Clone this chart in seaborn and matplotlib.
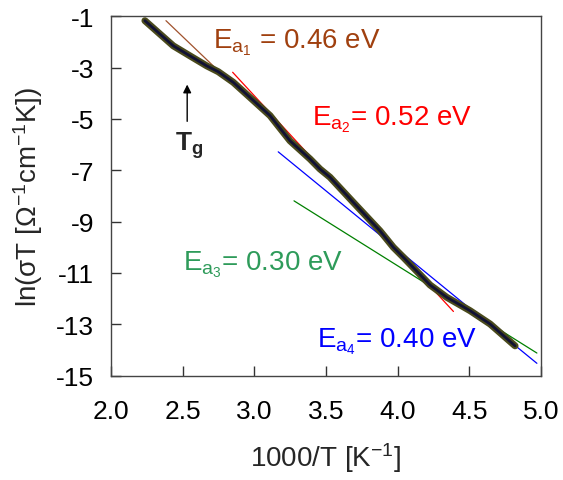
import seaborn as sns
import matplotlib.pyplot as plt
import pandas as pd

# measured curve ln(sigma T) vs 1000/T
inv_t = [2.237, 2.342, 2.435, 2.551, 2.668, 2.749, 2.853, 2.970, 3.110, 3.249,
         3.389, 3.458, 3.528, 3.691, 3.877, 3.970, 4.040, 4.226, 4.343, 4.505,
         4.645, 4.819]
ln_st = [-1.17, -1.69, -2.15, -2.54, -2.93, -3.16, -3.57, -4.16, -4.87, -5.85,
         -6.56, -6.95, -7.27, -8.25, -9.36, -10.00, -10.39, -11.47, -11.95, -12.47,
         -12.99, -13.84]

# Arrhenius fit lines (end points)
fit_name = ['Ea1', 'Ea2', 'Ea3', 'Ea4']
fit_x0 = [2.384, 2.849, 3.277, 3.167]
fit_x1 = [2.749, 4.389, 4.971, 4.971]
fit_y0 = [-1.17, -3.18, -8.19, -6.28]
fit_y1 = [-3.12, -12.50, -14.12, -14.52]
fit_color = ['#A0522D', '#FF0000', '#008000', '#0000FF']

# labels
lab_text = [r'E$_{a_1}$ = 0.46 eV', r'E$_{a_2}$= 0.52 eV',
            r'E$_{a_3}$= 0.30 eV', r'E$_{a_4}$= 0.40 eV']
lab_x = [2.71, 3.40, 2.50, 3.44]
lab_y = [-2.0, -5.0, -10.65, -13.65]
lab_color = ['#A0400F', '#FF0000', '#2E9B5A', '#0000FF']

sns.set_style('ticks')
plt.rcParams['font.family'] = ['Liberation Sans', 'DejaVu Sans']
plt.rcParams['mathtext.fontset'] = 'custom'
plt.rcParams['mathtext.rm'] = 'Liberation Sans'
plt.rcParams['mathtext.it'] = 'Liberation Sans:italic'
plt.rcParams['mathtext.bf'] = 'Liberation Sans:bold'
plt.rcParams['mathtext.default'] = 'regular'
plt.rcParams['axes.unicode_minus'] = False

fig = plt.figure(figsize=(5.63, 4.81), dpi=100)
ax = fig.add_axes([0.197, 0.217, 0.764, 0.747])

curve = pd.DataFrame({'x': inv_t, 'y': ln_st})

# fit lines
for i in range(len(fit_name)):
    seg = pd.DataFrame({'x': [fit_x0[i], fit_x1[i]], 'y': [fit_y0[i], fit_y1[i]]})
    sns.lineplot(x='x', y='y', data=seg, sort=False, color=fit_color[i], lw=0.9, ax=ax)

# data curve: olive halo + dark core
sns.lineplot(x='x', y='y', data=curve, sort=False, color='#4a4a1c', lw=5, ax=ax)
sns.lineplot(x='x', y='y', data=curve, sort=False, color='#111133', lw=2, ax=ax)

for i in range(len(lab_text)):
    ax.text(lab_x[i], lab_y[i], lab_text[i], color=lab_color[i], fontsize=20,
            ha='left', va='center')

# Tg arrow
ax.annotate('', xy=(2.532, -3.55), xytext=(2.532, -5.2),
            arrowprops=dict(arrowstyle='-|>', color='black', lw=1, mutation_scale=12))
ax.text(2.545, -6.0, r'$\mathbf{T_g}$', fontsize=19, ha='center', va='center')

ax.set_xlim(2.0, 5.0)
ax.set_ylim(-15, -1)
ax.set_xticks([2.0, 2.5, 3.0, 3.5, 4.0, 4.5, 5.0])
ax.set_xticklabels(['2.0', '2.5', '3.0', '3.5', '4.0', '4.5', '5.0'])
ax.set_yticks([-1, -3, -5, -7, -9, -11, -13, -15])
ax.tick_params(direction='in', length=7, width=1, labelsize=19, pad=17,
               colors='#333333', labelcolor='black', top=False, right=False)
ax.tick_params(axis='y', pad=12)
for s in ax.spines.values():
    s.set_color('#444444')
    s.set_linewidth(1)

ax.set_xlabel(r'1000/T [K$^{-1}$]', fontsize=20, labelpad=12)
ax.set_ylabel(r'ln($\sigma$T [$\Omega^{-1}$cm$^{-1}$K])', fontsize=20, labelpad=8)

fig.savefig('out.png', dpi=100)
